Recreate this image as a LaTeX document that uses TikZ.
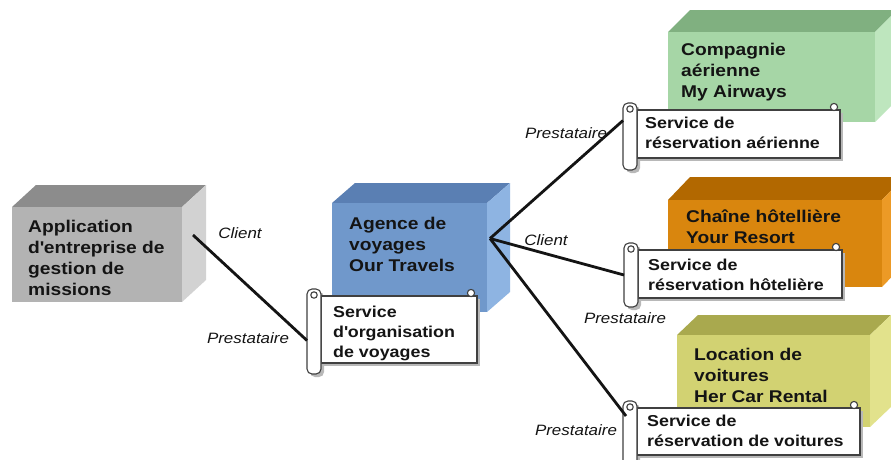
\documentclass[tikz,border=0pt]{standalone}
\usepackage{fontspec}
\setmainfont{Liberation Sans}[FakeStretch=1.13]
\usetikzlibrary{calc}
\definecolor{greyF}{HTML}{B3B3B3}\definecolor{greyT}{HTML}{8C8C8C}\definecolor{greyS}{HTML}{D2D2D2}
\definecolor{blueF}{HTML}{7098CB}\definecolor{blueT}{HTML}{5A7FB3}\definecolor{blueS}{HTML}{8EB4E2}
\definecolor{greenF}{HTML}{A6D6A6}\definecolor{greenT}{HTML}{80B080}\definecolor{greenS}{HTML}{BEE6BE}
\definecolor{orangeF}{HTML}{D9860E}\definecolor{orangeT}{HTML}{B26800}\definecolor{orangeS}{HTML}{EC9A26}
\definecolor{oliveF}{HTML}{D2D272}\definecolor{oliveT}{HTML}{A9A94E}\definecolor{oliveS}{HTML}{E2E28C}
\tikzset{
  frontface/.style={inner sep=0pt, outer sep=0pt, anchor=north west},
  boxtext/.style={anchor=north west, inner sep=0pt, align=left, text=black!92,
    font=\fontsize{17}{21}\selectfont\bfseries},
  scrolltext/.style={anchor=north west, inner sep=0pt, align=left, text=black!92,
    font=\fontsize{15.8}{20}\selectfont\bfseries},
  role/.style={inner sep=0pt, text=black!92, font=\fontsize{15}{18}\selectfont\itshape},
  link/.style={line width=2.8pt, black!92},
  scrollline/.style={draw=black!75, line width=1.1pt},
}
\newcommand\drawcube[8]{%
  \fill[#8T] (#2,#3) -- (#2+#6,#3-#7) -- (#4+#6,#3-#7) -- (#4,#3) -- cycle;
  \fill[#8S] (#4,#3) -- (#4+#6,#3-#7) -- (#4+#6,#5-#7) -- (#4,#5) -- cycle;
  \node[frontface, fill=#8F, minimum width={#4-#2}, minimum height={#5-#3}] (#1) at (#2,#3) {};
}
\newcommand\drawscroll[6]{%
  \fill[black!28] (#2+3,#3+3) rectangle (#4+3,#5+3);
  \fill[black!28, rounded corners=5pt] (#2-11,#3-4) rectangle (#2+3,#5+#6+3);
  \node[frontface, fill=white, scrollline, minimum width={#4-#2}, minimum height={#5-#3}] (#1) at (#2,#3) {};
  \node[frontface, fill=white, scrollline, rounded corners=5pt, minimum width=14, minimum height={#5+#6-#3+7}] (#1r) at (#2-14,#3-7) {};
  \draw[scrollline] (#2-7,#3-1) circle (3.2);
  \filldraw[fill=white, scrollline] (#4-6,#3-3) circle (3.6);
}
\begin{document}
\begin{tikzpicture}[x=1pt,y=-1pt]
\useasboundingbox (0,0) rectangle (891,459);
\fill[white] (0,0) rectangle (891,459);
% boxes
\drawcube{b1}{12}{207}{182}{302}{24}{22}{grey}
\drawcube{b2}{332}{203}{487}{312}{23}{20}{blue}
\drawcube{b3}{668}{32}{875}{122}{22}{22}{green}
\drawcube{b4}{668}{200}{882}{287}{22}{23}{orange}
\drawcube{b5}{677}{335}{870}{427}{21}{20}{olive}
\node[boxtext] (t1) at ($(b1.north west)+(16,13)$) {Application\\d\textquotesingle entreprise de\\gestion de\\missions};
\node[boxtext] (t2) at ($(b2.north west)+(17,14)$) {Agence de\\voyages\\Our Travels};
\node[boxtext] (t3) at ($(b3.north west)+(13,11)$) {Compagnie\\aérienne\\My Airways};
\node[boxtext] (t4) at ($(b4.north west)+(18,10)$) {Chaîne hôtellière\\Your Resort};
\node[boxtext] (t5) at ($(b5.north west)+(17,13)$) {Location de\\voitures\\Her Car Rental};
% scrolls
\drawscroll{s2}{321}{296}{477}{363}{11}
\drawscroll{s3}{637}{110}{840}{158}{12}
\drawscroll{s4}{638}{250}{842}{298}{9}
\drawscroll{s5}{637}{408}{860}{455}{20}
\node[scrolltext] (u2) at ($(s2.north west)+(12,10)$) {Service\\d\textquotesingle organisation\\de voyages};
\node[scrolltext] (u3) at ($(s3.north west)+(8,7)$) {Service de\\réservation aérienne};
\node[scrolltext] (u4) at ($(s4.north west)+(10,9)$) {Service de\\réservation hôtelière};
\node[scrolltext] (u5) at ($(s5.north west)+(10,7)$) {Service de\\réservation de voitures};
% connectors
\coordinate (hub) at ($(b2.east)+(3,-19)$);
\draw[link] ($(b1.east)+(11,-19.5)$) -- ($(s2r.west)+(0,9)$);
\draw[link] (hub) -- ($(s3r.west)+(0,-16)$);
\draw[link] (hub) -- (s4r.west);
\draw[link] (hub) -- ($(s5r.north west)+(3,15)$);
% labels
\node[role] (c1) at (240,233) {Client};
\node[role] (p1) at (248,338) {Prestataire};
\node[role] (p2) at (566,133) {Prestataire};
\node[role] (c2) at (546,240) {Client};
\node[role] (p3) at (625,318) {Prestataire};
\node[role] (p4) at (576,430) {Prestataire};
\end{tikzpicture}
\end{document}
